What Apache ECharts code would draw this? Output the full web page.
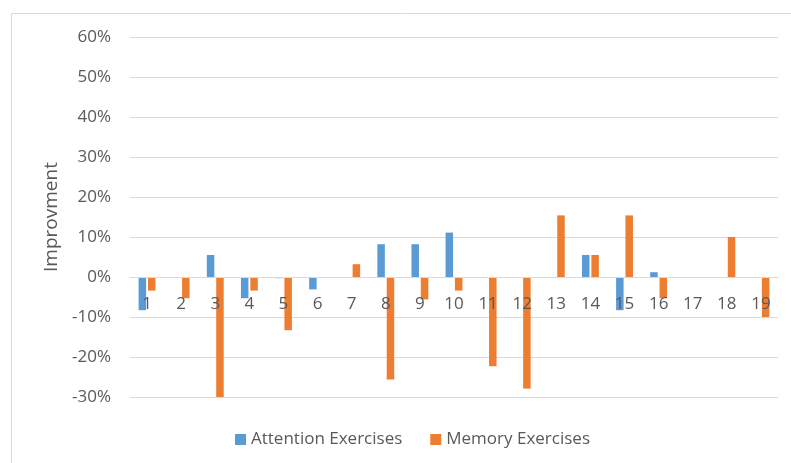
<!DOCTYPE html>
<html>
<head>
<meta charset="utf-8">
<script src="https://cdn.jsdelivr.net/npm/echarts@6/dist/echarts.min.js"></script>
<style>
  html, body { margin: 0; padding: 0; background: #ffffff; }
  #chart { width: 791px; height: 463px; }
</style>
</head>
<body>
<div id="chart"></div>
<script>
// Session numbers along the horizontal axis
const sessions = ['1','2','3','4','5','6','7','8','9','10','11','12','13','14','15','16','17','18','19'];

// Improvement per session, in percent
const attentionExercises = [-8.3, 0, 5.5, -5.3, -0.3, -3.1, 0, 8.2, 8.2, 11.1, 0, 0, 0, 5.5, -8.3, 1.2, 0, 0, 0];
const memoryExercises    = [-3.4, -5.3, -30.3, -3.4, -13.3, 0, 3.2, -25.6, -5.6, -3.4, -22.3, -27.9, 15.4, 5.5, 15.4, -5.3, 0, 10, -10];

// Vertical axis range and step, in percent
const yMin = -30, yMax = 60, yStep = 10;

const textFont = '"Open Sans", "Noto Sans", sans-serif';
const textColor = '#595959';

const chart = echarts.init(document.getElementById('chart'), null, { renderer: 'canvas' });

chart.setOption({
  animation: false,
  backgroundColor: '#ffffff',
  graphic: [{
    type: 'rect',
    shape: { x: 11.5, y: 13.5, width: 800, height: 470 },
    style: { fill: 'none', stroke: '#d9d9d9', lineWidth: 1 },
    silent: true,
    z: -1
  }],
  grid: { left: 130, right: 13, top: 37, bottom: 66, containLabel: false },
  legend: {
    bottom: 10,
    left: 230,
    itemWidth: 11,
    itemHeight: 11,
    itemGap: 28,
    icon: 'rect',
    textStyle: { fontFamily: textFont, fontSize: 17, color: textColor },
    data: ['Attention Exercises', 'Memory Exercises']
  },
  xAxis: {
    type: 'category',
    data: sessions,
    z: 5,
    axisLine: { onZero: true, lineStyle: { color: '#d9d9d9', width: 1 } },
    axisTick: { show: false },
    axisLabel: { fontFamily: textFont, fontSize: 17, color: textColor, margin: 19 },
    splitLine: { show: false }
  },
  yAxis: {
    type: 'value',
    min: yMin,
    max: yMax,
    interval: yStep,
    name: 'Improvment',
    nameLocation: 'middle',
    nameGap: 60,
    nameRotate: 90,
    nameTextStyle: { fontFamily: textFont, fontSize: 19, color: textColor },
    axisLine: { show: false },
    axisTick: { show: false },
    axisLabel: {
      fontFamily: textFont, fontSize: 17, color: textColor, margin: 19,
      formatter: v => v + '%'
    },
    splitLine: { lineStyle: { color: '#d9d9d9', width: 1 } }
  },
  series: [
    {
      name: 'Attention Exercises',
      type: 'bar',
      data: attentionExercises,
      barWidth: 7.5,
      barGap: '25%',
      itemStyle: { color: '#5B9BD5' }
    },
    {
      name: 'Memory Exercises',
      type: 'bar',
      data: memoryExercises,
      barWidth: 7.5,
      itemStyle: { color: '#ED7D31' }
    }
  ]
});

// Keep the category axis (and its labels) on the zero line of the value axis
const zeroY = chart.convertToPixel({ yAxisIndex: 0 }, 0);
const bottomY = chart.convertToPixel({ yAxisIndex: 0 }, yMin);
chart.setOption({ xAxis: { offset: zeroY - bottomY } });
</script>
</body>
</html>
